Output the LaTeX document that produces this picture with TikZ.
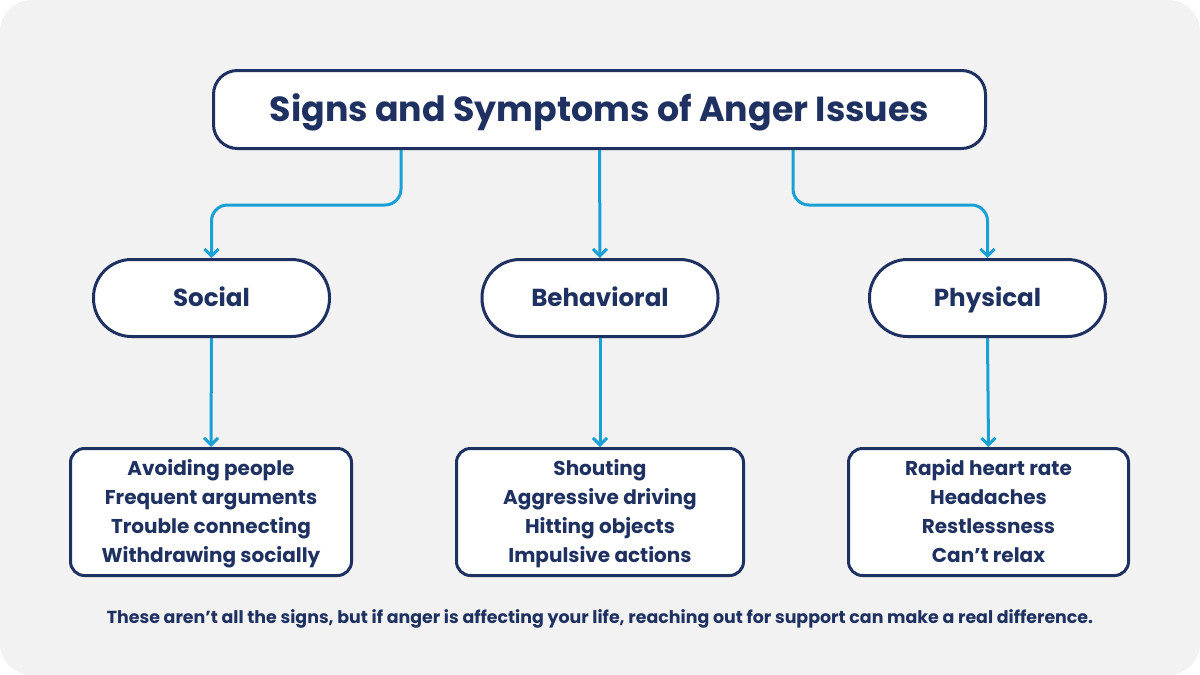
\documentclass[tikz,border=0pt]{standalone}
\usepackage{fontspec}
\setmainfont{Poppins}
\usetikzlibrary{arrows.meta}
\definecolor{navy}{RGB}{30,49,96}
\definecolor{cyanline}{RGB}{27,160,214}
\definecolor{cardgray}{RGB}{242,242,243}
\begin{document}
\begin{tikzpicture}[x=1pt,y=-1pt,
 box/.style={draw=navy,line width=3pt,fill=white,text=navy,inner sep=0pt},
 titlebox/.style={box,rounded corners=24pt,minimum width=772pt,minimum height=78pt,text height=24.4pt,text depth=0pt,font=\fontsize{34.8}{40}\selectfont\bfseries},
 catbox/.style={box,rounded corners=38pt,minimum width=236pt,minimum height=77pt,text height=17.2pt,text depth=0pt,font=\fontsize{24.6}{28}\selectfont\bfseries},
 listbox/.style={box,rounded corners=14pt,minimum height=127pt,align=center,text height=101pt,text depth=0pt,font=\fontsize{20}{29}\selectfont\bfseries},
 conn/.style={draw=cyanline,line width=3pt,-{Straight Barb[length=7pt,width=14pt]},rounded corners=16pt},
 foot/.style={text=navy,font=\fontsize{17.4}{20}\selectfont\bfseries,inner sep=0pt,text height=12.2pt,text depth=0pt}
]
\useasboundingbox (0,0) rectangle (1200,675);
\fill[white] (0,0) rectangle (1200,675);
\fill[cardgray,rounded corners=32pt] (0,0) rectangle (1200,675);

\node[titlebox] (title) at (599.5,109.5) {Signs and Symptoms of Anger Issues};

\node[catbox] (social) at (211.5,298) {Social};
\node[catbox] (behav) at (600,298) {Behavioral};
\node[catbox] (phys) at (987.5,298) {Physical};

\node[listbox,minimum width=281pt] (slist) at (211,512) {Avoiding people\\Frequent arguments\\Trouble connecting\\Withdrawing socially};
\node[listbox,minimum width=287pt] (blist) at (600,512) {Shouting\\Aggressive driving\\Hitting objects\\Impulsive actions};
\node[listbox,minimum width=280pt] (plist) at (988.5,512) {Rapid heart rate\\Headaches\\Restlessness\\Can’t relax};

\draw[conn] ([xshift=-198.5pt]title.south) -- ++(0,55) -| (social.north);
\draw[conn] (title.south) -- (behav.north);
\draw[conn] ([xshift=193.5pt]title.south) -- ++(0,55) -| (phys.north);

\draw[conn] (social.south) -- (slist.north);
\draw[conn] (behav.south) -- (blist.north);
\draw[conn] (phys.south) -- (plist.north);

\node[foot] (note) at (600,617.5) {These aren’t all the signs, but if anger is affecting your life, reaching out for support can make a real difference.};
\end{tikzpicture}
\end{document}
